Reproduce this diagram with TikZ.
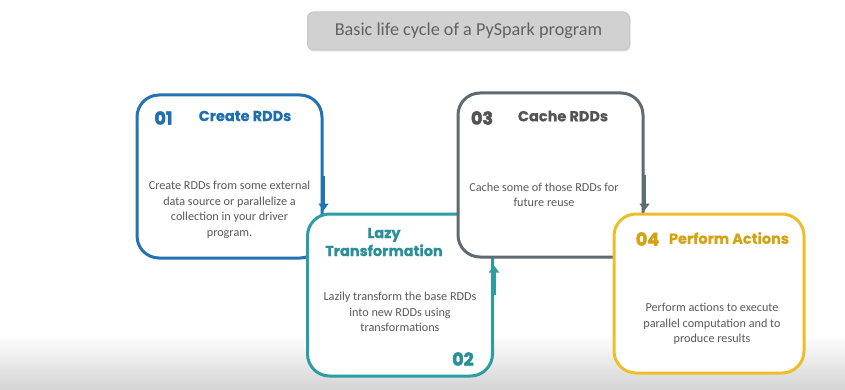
\documentclass[tikz,border=0pt]{standalone}
\usepackage{fontspec}
\setmainfont{Carlito}
\newfontfamily\headfont[BoldFeatures={FakeBold=0.6}]{Poppins}
\newfontfamily\numfont[BoldFeatures={FakeBold=3}]{Poppins}
\usetikzlibrary{arrows.meta,calc,shadows}

\definecolor{cblue}{HTML}{2373B3}
\definecolor{cteal}{HTML}{2C9CA5}
\definecolor{cgray}{HTML}{5E6B72}
\definecolor{cgold}{HTML}{ECBE2A}
\definecolor{tblue}{HTML}{1F6FAF}
\definecolor{tteal}{HTML}{2A8F98}
\definecolor{tgray}{HTML}{545454}
\definecolor{tgold}{HTML}{D4A314}
\definecolor{bodytxt}{HTML}{5A5A5A}

\tikzset{
  card/.style={draw=#1, line width=3pt, fill=white, rounded corners=22pt,
    minimum width=185pt, minimum height=163pt, inner sep=0pt},
  flowtip/.style={draw=#1, line width=3pt, -{Triangle[width=10pt,length=7pt]}},
  head/.style={font=\headfont\bfseries\fontsize{14.5}{18}\selectfont, text=#1, inner sep=0pt},
  stepno/.style={font=\numfont\bfseries\fontsize{17.5}{18}\selectfont, text=#1, inner sep=0pt},
  body/.style={font=\fontsize{12.2}{15.5}\selectfont, text=bodytxt, align=center, inner sep=0pt},
}

\begin{document}
\begin{tikzpicture}[x=1pt,y=-1pt]
  % page and soft grey floor
  \fill[white] (0,0) rectangle (845,390);
  \shade[top color=white, bottom color=black!17] (0,335) rectangle (845,390);
  \useasboundingbox (0,0) rectangle (845,390);

  % title banner
  \node[draw=black!22, fill=black!18, rounded corners=6pt, line width=1pt,
        minimum width=322pt, minimum height=38pt,
        drop shadow={shadow xshift=1pt, shadow yshift=-1.5pt, opacity=0.25},
        font=\fontsize{18.2}{20}\selectfont, text=black!62] (title) at (468.5,31)
        {Basic life cycle of a PySpark program};

  % the four stage cards, each one laid over the previous
  \node[card=cblue, minimum height=163pt] (c1) at (229.5,176.5) {};
  \node[card=cteal, minimum height=162pt] (c2) at (400,295) {};
  \node[card=cgray, minimum height=164pt] (c3) at (550.5,175) {};
  \node[card=cgold, minimum width=190pt, minimum height=159pt] (c4) at (709,293.5) {};

  % arrow heads continuing the card borders
  \draw[flowtip=cblue] (c1.east) -- ($(c1.east |- c2.north)+(0,-2)$);
  \draw[flowtip=cteal] (c2.east) -- ($(c2.east |- c3.south)+(0,7)$);
  \draw[flowtip=cgray] (c3.east) -- ($(c3.east |- c4.north)+(0,-2)$);

  % card 1
  \node[stepno=tblue] (n1) at (163.5,118) {01};
  \node[head=tblue] (h1) at (245,116) {Create RDDs};
  \node[body] (t1) at (229.5,210)
    {Create RDDs from some external\\data source or parallelize a\\collection in your driver\\program.};

  % card 2
  \node[head=tteal, align=center] (h2) at (384,242)
    {Lazy\\Transformation};
  \node[body] (t2) at (400,312)
    {Lazily transform the base RDDs\\into new RDDs using\\transformations};
  \node[stepno=tteal] (n2) at (463,359) {02};

  % card 3
  \node[stepno=tgray] (n3) at (482,118) {03};
  \node[head=tgray] (h3) at (563,116) {Cache RDDs};
  \node[body] (t3) at (544,195)
    {Cache some of those RDDs for\\future reuse};

  % card 4
  \node[stepno=tgold] (n4) at (647.5,239) {04};
  \node[head=tgold] (h4) at (729,238) {Perform Actions};
  \node[body] (t4) at (712,324)
    {Perform actions to execute\\parallel computation and to\\produce results};
\end{tikzpicture}
\end{document}
